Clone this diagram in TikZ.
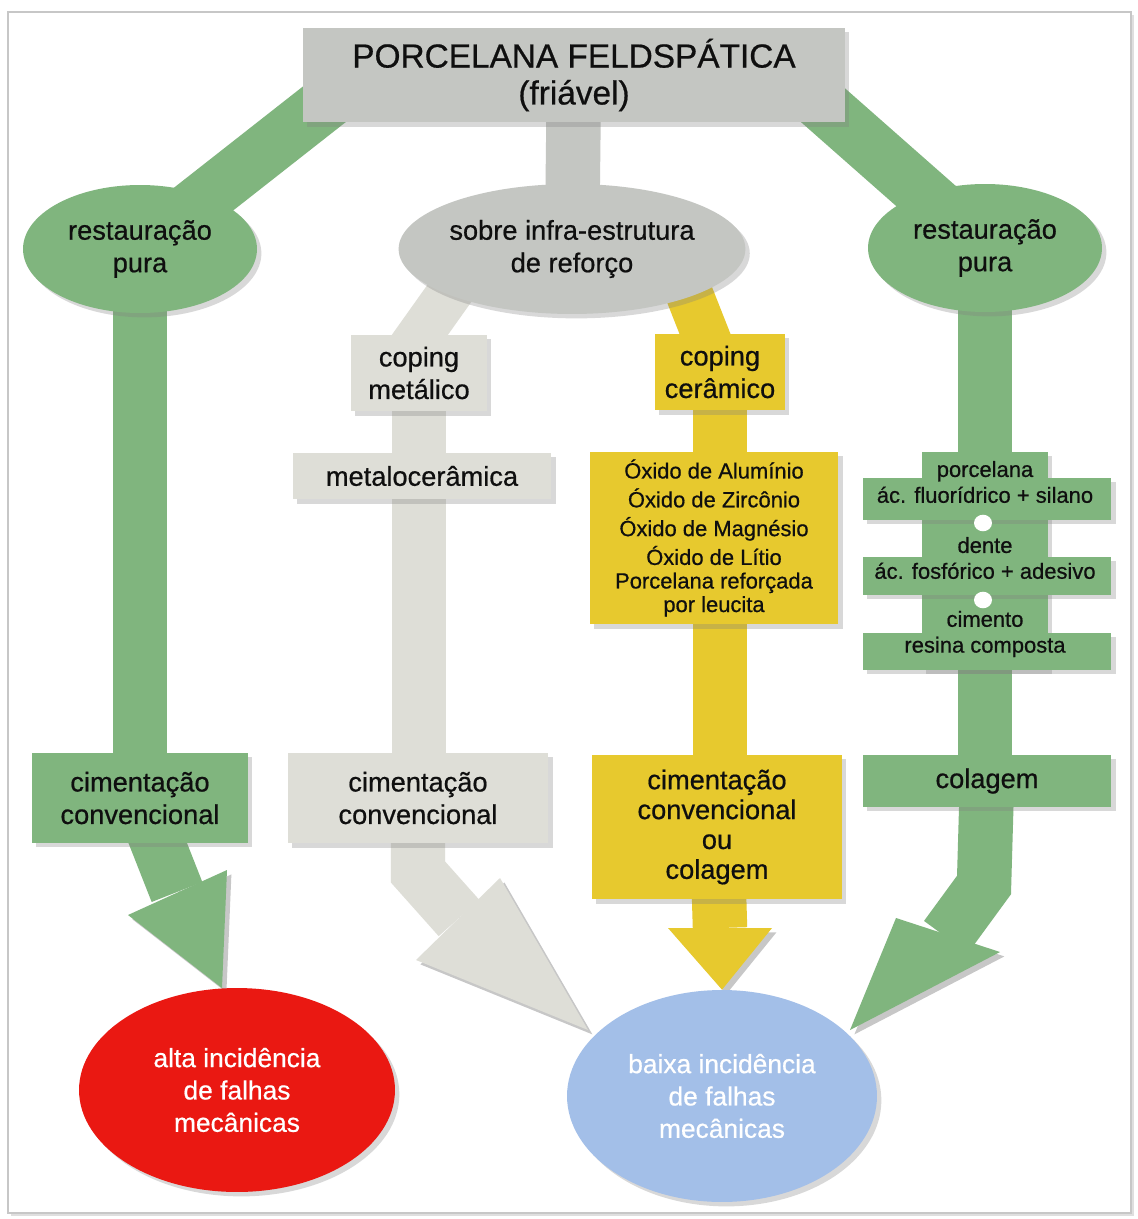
\documentclass[tikz,border=0pt]{standalone}
\usepackage{fontspec}
\setmainfont{Liberation Sans}[FakeBold=0.6]
\usetikzlibrary{positioning,shapes.geometric,shadows,backgrounds}
\definecolor{leafgreen}{RGB}{128,181,126}
\definecolor{stonegrey}{RGB}{196,198,194}
\definecolor{metalgrey}{RGB}{222,222,215}
\definecolor{ceramyellow}{RGB}{231,201,46}
\definecolor{failred}{RGB}{234,24,18}
\definecolor{safeblue}{RGB}{163,191,232}
\definecolor{ink}{RGB}{15,15,15}

\tikzset{
  shade drop/.style={drop shadow={opacity=.3, shadow xshift=2.5pt, shadow yshift=-2.5pt}},
  box/.style={rectangle, inner sep=0pt, align=center, text=ink, shade drop},
  oval/.style={ellipse, inner sep=0pt, align=center, text=ink, shade drop},
  band/.style={line width=31pt, preaction={draw=black, opacity=.22, transform canvas={shift={(2.5pt,-2.5pt)}}}},
  arrowhead/.style={preaction={fill=black, opacity=.22, transform canvas={shift={(2.5pt,-2.5pt)}}}},
  bigtxt/.style={font=\fontsize{15.5}{18.5}\selectfont},
  smalltxt/.style={font=\fontsize{12.5}{16.4}\selectfont},
}

\begin{document}
\begin{tikzpicture}[x=0.02cm, y=-0.02cm]
  \useasboundingbox (0,0) rectangle (1137,1219);
  % top of the tree
  \node[box, fill=stonegrey, minimum width=10.84cm, minimum height=1.9cm,
        font=\fontsize{19}{21}\selectfont] (title) at (574,75) {PORCELANA FELDSPÁTICA\\(friável)};
  \node[oval, fill=leafgreen, minimum width=4.68cm, minimum height=2.56cm, bigtxt] (lpura) at (140,249) {restauração\\pura};
  \node[oval, fill=leafgreen, minimum width=4.68cm, minimum height=2.56cm, bigtxt] (rpura) at (985,248) {restauração\\pura};
  \node[oval, fill=stonegrey, minimum width=6.28cm, minimum height=2.6cm, bigtxt] (infra) at (572,249) {sobre infra-estrutura\\de reforço};
  % metal branch
  \node[box, fill=metalgrey, minimum width=2.72cm, minimum height=1.54cm, bigtxt] (copmet) at (419,373) {coping\\metálico};
  \node[box, fill=metalgrey, minimum width=5.18cm, minimum height=.94cm, bigtxt] (metalo) at (422,476) {metalocerâmica};
  \node[box, fill=metalgrey, minimum width=5.22cm, minimum height=1.82cm, bigtxt] (gcim) at (418,798) {cimentação\\convencional};
  % ceramic branch
  \node[box, fill=ceramyellow, minimum width=2.6cm, minimum height=1.54cm, bigtxt] (copcer) at (720,372) {coping\\cerâmico};
  \node[box, fill=ceramyellow, minimum width=4.98cm, minimum height=3.46cm, smalltxt] (oxido) at (714,538)
       {Óxido de Alumínio\\Óxido de Zircônio\\Óxido de Magnésio\\Óxido de Lítio\\[-3pt]Porcelana reforçada\\[-3pt]por leucita};
  \node[box, fill=ceramyellow, minimum width=5cm, minimum height=2.9cm, font=\fontsize{15.5}{17}\selectfont] (ycim) at (717,827)
       {cimentação\\convencional\\ou\\colagem};
  % pure restoration, right
  \node[box, fill=leafgreen, minimum width=2.52cm, minimum height=4.36cm] (rcol) at (985,561) {};
  \node[box, fill=leafgreen, minimum width=4.98cm, minimum height=.84cm] (rb1) at (987,499) {};
  \node[box, fill=leafgreen, minimum width=4.98cm, minimum height=.76cm] (rb2) at (987,576) {};
  \node[box, fill=leafgreen, minimum width=4.98cm, minimum height=.74cm] (rb3) at (987,651) {};
  \node[ellipse, fill=white, minimum width=.36cm, minimum height=.3cm] (hole1) at (983,523) {};
  \node[ellipse, fill=white, minimum width=.36cm, minimum height=.3cm] (hole2) at (983,600) {};
  \node[text=ink, align=center, font=\fontsize{12.5}{14.7}\selectfont] (t1) at (985,482) {porcelana\\ác. fluorídrico + silano};
  \node[text=ink, align=center, font=\fontsize{12.5}{14.7}\selectfont] (t2) at (985,558) {dente\\ác. fosfórico + adesivo};
  \node[text=ink, align=center, font=\fontsize{12.5}{14.7}\selectfont] (t3) at (985,634) {cimento\\resina composta};
  \node[box, fill=leafgreen, minimum width=4.98cm, minimum height=1.04cm, bigtxt] (colagem) at (987,781) {colagem};
  % pure restoration, left
  \node[box, fill=leafgreen, minimum width=4.32cm, minimum height=1.8cm, bigtxt] (lcim) at (140,798) {cimentação\\convencional};
  % outcomes
  \node[oval, fill=failred, text=white, minimum width=6.32cm, minimum height=4.08cm,
        font=\fontsize{15}{18.4}\selectfont] (alta) at (237,1090) {alta incidência\\de falhas\\mecânicas};
  \node[oval, fill=safeblue, text=white, minimum width=6.2cm, minimum height=4.24cm,
        font=\fontsize{15}{18.4}\selectfont] (baixa) at (722,1096) {baixa incidência\\de falhas\\mecânicas};

  % free ends of the bands
  \coordinate (ltop) at (340,92);
  \coordinate (rtop) at (808,92);
  \coordinate (gtop) at (466,270);
  \coordinate (gfoot) at (402,360);
  \coordinate (ytop) at (679,268);
  \coordinate (lbase) at (177,892);
  \coordinate (lhl) at (128,915);
  \coordinate (lhr) at (227,870);
  \coordinate (ltip) at (222,988);
  \coordinate (gbend) at (418,872);
  \coordinate (gbase) at (459,918);
  \coordinate (ghl) at (416,960);
  \coordinate (ghr) at (500,878);
  \coordinate (gtip) at (588,1030);
  \coordinate (ybase) at (720,928);
  \coordinate (yhl) at (668,928);
  \coordinate (yhr) at (772,928);
  \coordinate (rbend) at (984,885);
  \coordinate (rbase) at (946,937);
  \coordinate (rhl) at (896,918);
  \coordinate (rhr) at (1000,952);
  \coordinate (rtip) at (850,1030);

  \begin{scope}[on background layer]
    % frame
    \draw[black!22, line width=1pt, fill=white,
          drop shadow={opacity=.25, shadow xshift=1.5pt, shadow yshift=-1.5pt}] (8,12) rectangle (1131,1213);
    % green bands
    \draw[band, leafgreen] (ltop) -- (lpura.center);
    \draw[band, leafgreen] (rtop) -- (rpura.center);
    \draw[band, leafgreen] (lpura.center) -- (lpura.center |- lcim.center);
    \draw[band, leafgreen] (lcim.center) -- (lbase);
    \fill[arrowhead, leafgreen] (lhl) -- (ltip) -- (lhr) -- cycle;
    \draw[band, leafgreen] (rpura.center) -- (rpura.center |- colagem.center);
    \draw[band, leafgreen] (colagem.center) -- (rbend) -- (rbase);
    \fill[arrowhead, leafgreen] (rhl) -- (rtip) -- (rhr) -- cycle;
    % grey bands
    \draw[band, stonegrey] (title.center) -- (infra.center);
    \draw[band, metalgrey, line width=26pt] (gtop) -- (gfoot);
    \draw[band, metalgrey] (copmet.center) -- (copmet.center |- gcim.center);
    \draw[band, metalgrey] (gcim.center) -- (gbend) -- (gbase);
    \fill[arrowhead, metalgrey] (ghl) -- (gtip) -- (ghr) -- cycle;
    % yellow bands
    \draw[band, ceramyellow, line width=27pt] (ytop) -- (copcer.center);
    \draw[band, ceramyellow] (copcer.center) -- (copcer.center |- ycim.center);
    \draw[band, ceramyellow] (ycim.center) -- (ybase);
    \fill[arrowhead, ceramyellow] (yhl) -- (baixa.north) -- (yhr) -- cycle;
  \end{scope}
\end{tikzpicture}
\end{document}
